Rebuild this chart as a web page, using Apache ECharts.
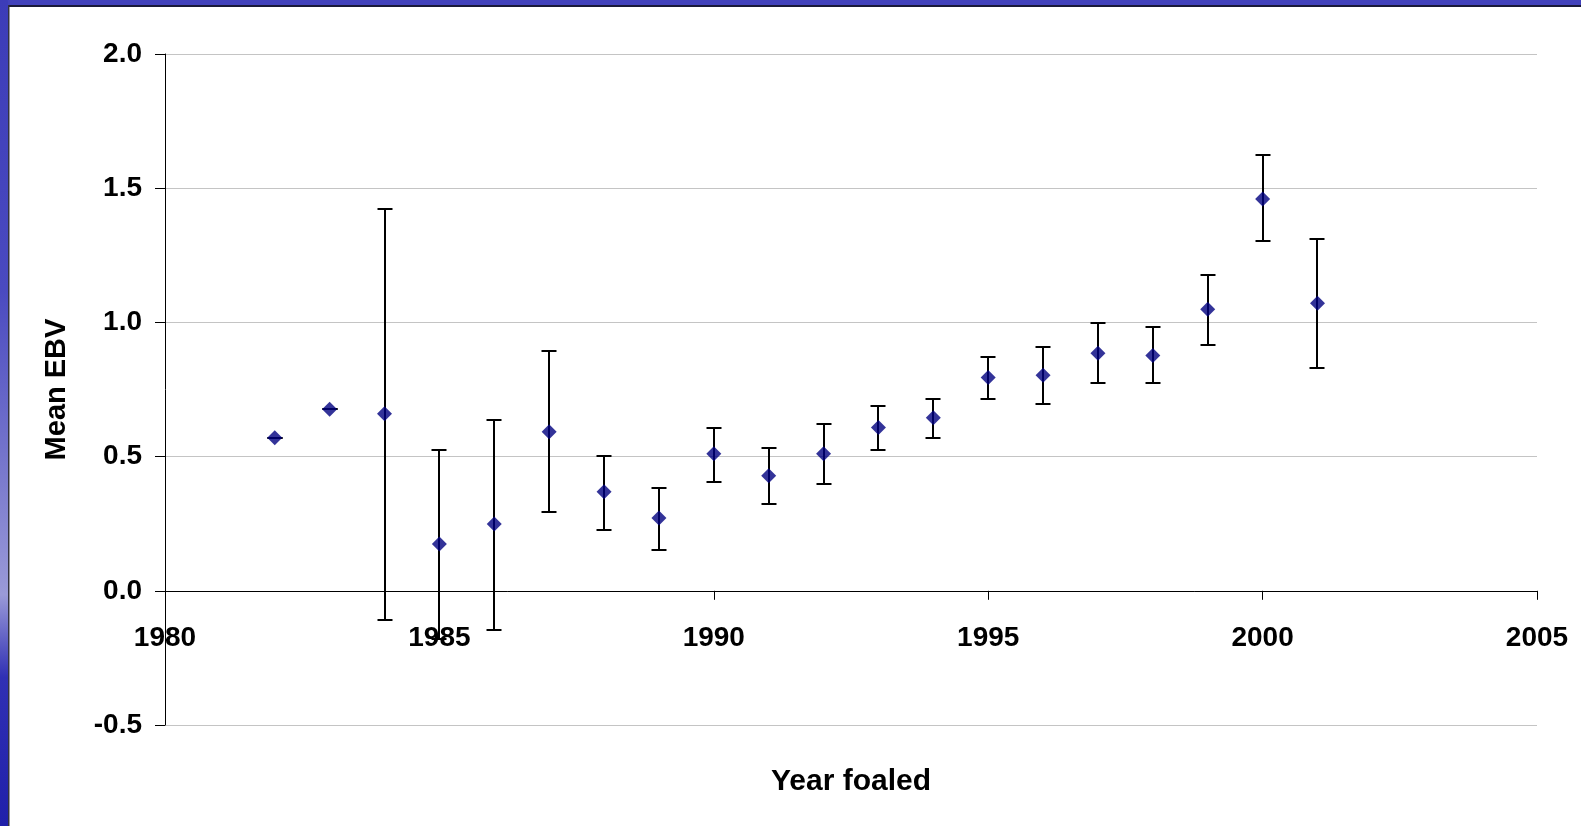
<!DOCTYPE html>
<html>
<head>
<meta charset="utf-8">
<title>Mean EBV by year foaled</title>
<script src="https://cdn.jsdelivr.net/npm/echarts@6/dist/echarts.min.js"></script>
<style>
  html, body { margin: 0; padding: 0; background: #ffffff; }
  #chart { width: 1581px; height: 826px; }
</style>
</head>
<body>
<div id="chart"></div>
<script>
// Year foaled
const years = [1982, 1983, 1984, 1985, 1986, 1987, 1988, 1989, 1990, 1991,
               1992, 1993, 1994, 1995, 1996, 1997, 1998, 1999, 2000, 2001];
// Mean EBV per year
const means = [0.570, 0.676, 0.660, 0.174, 0.249, 0.593, 0.369, 0.271, 0.511, 0.429,
               0.511, 0.608, 0.645, 0.795, 0.803, 0.885, 0.877, 1.049, 1.460, 1.071];
// Upper end of error bar
const upper = [0.570, 0.676, 1.422, 0.526, 0.638, 0.892, 0.502, 0.384, 0.608, 0.533,
               0.623, 0.690, 0.713, 0.870, 0.907, 0.997, 0.982, 1.177, 1.625, 1.311];
// Lower end of error bar
const lower = [0.570, 0.676, -0.110, -0.178, -0.147, 0.294, 0.227, 0.152, 0.405, 0.325,
               0.399, 0.526, 0.571, 0.713, 0.697, 0.773, 0.773, 0.915, 1.304, 0.831];

const xTicks = { min: 1980, max: 2005, interval: 5 };
const yTicks = { min: -0.5, max: 2.0, interval: 0.5 };

const FONT = '"Liberation Sans", Arial, Helvetica, sans-serif';

const W = 1581, H = 826;
const GRID = { left: 165, right: 44, top: 54, bottom: 101 };
// the year axis sits on the zero line: shift it up from the grid bottom
const plotH = H - GRID.top - GRID.bottom;
const zeroOffset = -plotH * (0 - yTicks.min) / (yTicks.max - yTicks.min);

const chart = echarts.init(document.getElementById('chart'), null, { renderer: 'canvas' });

const barData = years.map((y, i) => [y, lower[i], upper[i]]);
const pointData = years.map((y, i) => [y, means[i]]);

// vertical error bar with a cap at each end, snapped to whole pixels
function renderErrorBar(params, api) {
  const x = api.value(0);
  const lo = api.coord([x, api.value(1)]);
  const hi = api.coord([x, api.value(2)]);
  const cx = Math.round(lo[0]);
  const yLo = Math.round(lo[1]);
  const yHi = Math.round(hi[1]);
  const half = 7.5;
  const style = { stroke: '#000000', lineWidth: 2 };
  return {
    type: 'group',
    children: [
      { type: 'line', shape: { x1: cx, y1: yHi, x2: cx, y2: yLo }, style },
      { type: 'line', shape: { x1: cx - half, y1: yHi, x2: cx + half, y2: yHi }, style },
      { type: 'line', shape: { x1: cx - half, y1: yLo, x2: cx + half, y2: yLo }, style }
    ]
  };
}

chart.setOption({
  animation: false,
  backgroundColor: '#ffffff',
  graphic: [
    // slide frame: top band
    {
      type: 'rect', left: 0, top: 0, z: 100,
      shape: { width: W, height: 5 },
      style: { fill: '#4242bc' }
    },
    {
      type: 'rect', left: 0, top: 5, z: 100,
      shape: { width: W, height: 2 },
      style: { fill: '#1a1a3a' }
    },
    // slide frame: left band
    {
      type: 'rect', left: 0, top: 0, z: 100,
      shape: { width: 8, height: H },
      style: {
        fill: new echarts.graphic.LinearGradient(0, 0, 0, 1, [
          { offset: 0, color: '#3c3cb8' },
          { offset: 0.35, color: '#4a4ac0' },
          { offset: 0.55, color: '#7474cc' },
          { offset: 0.72, color: '#9a9ad8' },
          { offset: 0.82, color: '#3030b4' },
          { offset: 1, color: '#2020aa' }
        ])
      }
    },
    {
      type: 'rect', left: 8, top: 5, z: 100,
      shape: { width: 1.5, height: H - 5 },
      style: { fill: '#333340' }
    }
  ],
  grid: {
    left: GRID.left, right: GRID.right, top: GRID.top, bottom: GRID.bottom,
    containLabel: false,
    outerBoundsMode: 'none'
  },
  xAxis: {
    type: 'value',
    min: xTicks.min, max: xTicks.max, interval: xTicks.interval,
    offset: zeroOffset,
    name: 'Year foaled',
    nameLocation: 'middle',
    nameGap: 176,
    nameTextStyle: { fontFamily: FONT, fontWeight: 'bold', fontSize: 30, color: '#000000' },
    axisLine: { onZero: false, lineStyle: { color: '#000000', width: 1 } },
    axisTick: { show: true, inside: false, length: 9, lineStyle: { color: '#000000' } },
    axisLabel: {
      margin: 33.5,
      fontFamily: FONT, fontWeight: 'bold', fontSize: 28, color: '#000000',
      formatter: v => String(v)
    },
    splitLine: { show: false }
  },
  yAxis: {
    type: 'value',
    min: yTicks.min, max: yTicks.max, interval: yTicks.interval,
    name: 'Mean EBV',
    nameLocation: 'middle',
    nameGap: 94,
    nameRotate: 90,
    nameTextStyle: { fontFamily: FONT, fontWeight: 'bold', fontSize: 29, color: '#000000' },
    axisLine: { show: true, onZero: false, lineStyle: { color: '#000000', width: 1 } },
    axisTick: { show: true, inside: false, length: 10, lineStyle: { color: '#000000' } },
    axisLabel: {
      margin: 23,
      fontFamily: FONT, fontWeight: 'bold', fontSize: 28, color: '#000000',
      formatter: v => v.toFixed(1)
    },
    splitLine: { show: true, lineStyle: { color: '#c4c4c4', width: 1 } }
  },
  series: [
    {
      type: 'custom',
      name: 'range',
      data: barData,
      renderItem: renderErrorBar,
      encode: { x: 0, y: [1, 2] },
      z: 2,
      clip: false
    },
    {
      type: 'scatter',
      name: 'Mean EBV',
      data: pointData,
      symbol: 'diamond',
      symbolSize: 15,
      itemStyle: { color: '#000080' },
      z: 3
    }
  ]
});
</script>
</body>
</html>
